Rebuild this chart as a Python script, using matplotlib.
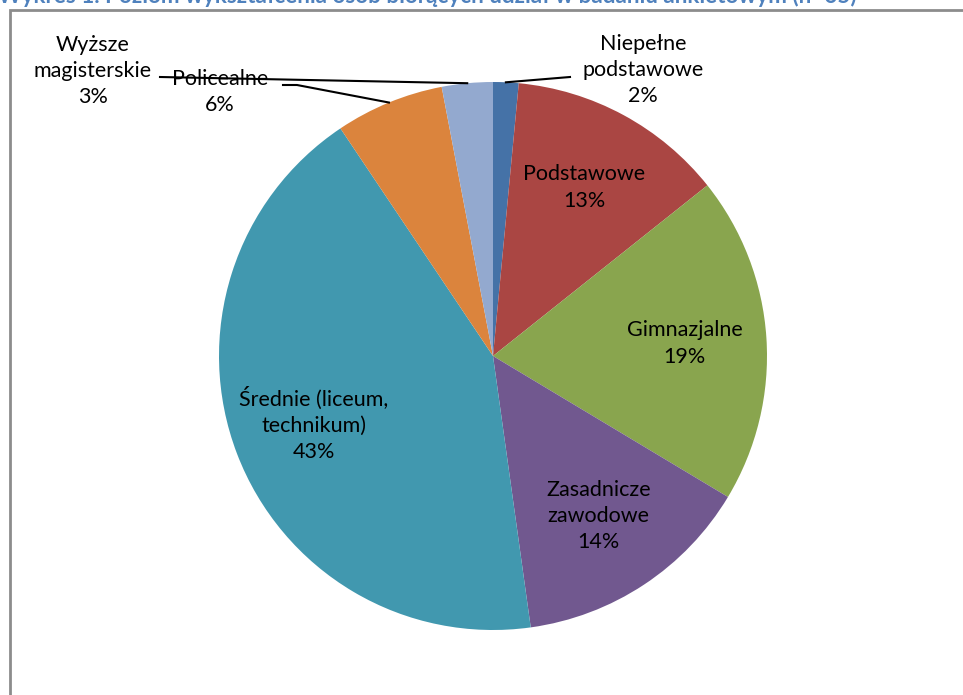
import matplotlib.pyplot as plt
from matplotlib.patches import Rectangle
import numpy as np

plt.rcParams['font.family'] = ['Lato', 'DejaVu Sans']

# data, clockwise from the top
categories = ["Niepełne\npodstawowe", "Podstawowe", "Gimnazjalne", "Zasadnicze\nzawodowe",
              "Średnie (liceum,\ntechnikum)", "Policealne", "Wyższe\nmagisterskie"]
shares = [1.5, 12.8, 19.3, 14.2, 42.8, 6.4, 3.0]
colors = ["#4572A7", "#AA4643", "#89A54E", "#71588F", "#4198AF", "#DB843D", "#93A9CF"]
title = "Wykres 1. Poziom wykształcenia osób biorących udział w badaniu ankietowym (n=65)"

W, H = 963, 695
cx, cy, R = 493, 356, 274  # pie centre / radius in pixels

fig = plt.figure(figsize=(W / 100, H / 100), dpi=100)
ax = fig.add_axes([0, 0, 1, 1])

wedges, _ = ax.pie(shares, colors=colors, startangle=90, counterclock=False,
                   radius=1, center=(0, 0), wedgeprops=dict(linewidth=0))

ax.set_xlim(-cx / R, (W - cx) / R)
ax.set_ylim(-(H - cy) / R, cy / R)
ax.set_aspect('equal')
ax.axis('off')

# chart frame (only top and left edges visible in the crop)
fig.patches.append(Rectangle((10 / W, -0.1), 1.2, 1 - 10 / H + 0.1, transform=fig.transFigure,
                             fill=False, edgecolor='#8c8c8c', lw=2))
# title sits mostly above the cropped picture, as in the source
fig.text(-2 / W, 1 - 3 / H, title, color='#4F81BD', fontsize=16.2, fontweight='bold',
         ha='left', va='baseline')

# outside label positions (pixels) and leader end points
outside = {0: ((643, 70), [(570, 77)]),
           5: ((220, 92), [(297, 85), (283, 85)]),
           6: ((93, 71), [(160, 77)])}

fs = 15.5
ls = 1.4
for i, w in enumerate(wedges):
    ang = np.deg2rad((w.theta1 + w.theta2) / 2)
    lab = f"{categories[i]}\n{round(shares[i])}%"
    if i in outside:
        (px, py), pts = outside[i]
        ax.text((px - cx) / R, (cy - py) / R, lab, ha='center', va='center',
                fontsize=fs, linespacing=ls)
        xs = [np.cos(ang)] + [(p[0] - cx) / R for p in pts]
        ys = [np.sin(ang)] + [(cy - p[1]) / R for p in pts]
        ax.plot(xs, ys, color='black', lw=1.5, zorder=5)
    else:
        d = 0.7
        ax.text(d * np.cos(ang), d * np.sin(ang), lab, ha='center', va='center',
                fontsize=fs, linespacing=ls)

fig.savefig("out.png", dpi=100)
